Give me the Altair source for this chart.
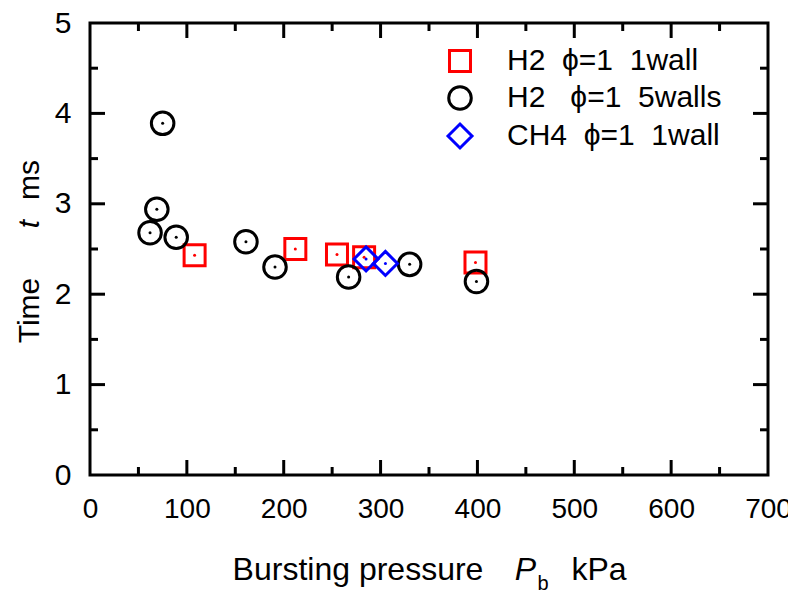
import altair as alt
import pandas as pd

# ---- data ----
h2_1wall_x = [108, 212, 255, 283, 398]
h2_1wall_y = [2.43, 2.50, 2.44, 2.41, 2.35]

h2_5walls_x = [75, 69, 62, 89, 161, 191, 267, 330, 399]
h2_5walls_y = [3.89, 2.94, 2.68, 2.63, 2.58, 2.30, 2.19, 2.33, 2.14]

ch4_1wall_x = [285, 305]
ch4_1wall_y = [2.39, 2.34]

NB = "\u00a0"
series_names = ["H2" + NB * 2 + "ϕ=1" + NB * 2 + "1wall",
                "H2" + NB * 3 + "ϕ=1" + NB * 2 + "5walls",
                "CH4" + NB * 2 + "ϕ=1" + NB * 2 + "1wall"]
series_colors = ["#ff0000", "#000000", "#0000ff"]
series_shapes = ["square", "circle", "diamond"]
series_sizes = [441, 576, 900]

x_major = [0, 100, 200, 300, 400, 500, 600, 700]
x_minor = [50, 150, 250, 350, 450, 550, 650]
y_major = [0, 1, 2, 3, 4, 5]
y_minor = [0.5, 1.5, 2.5, 3.5, 4.5]

W, H = 678, 452
FONT = "Liberation Sans"

rows = []
for name, xs, ys in zip(series_names,
                        [h2_1wall_x, h2_5walls_x, ch4_1wall_x],
                        [h2_1wall_y, h2_5walls_y, ch4_1wall_y]):
    for a, b in zip(xs, ys):
        rows.append({"P": a, "t": b, "series": name})
df = pd.DataFrame(rows)

xscale = alt.Scale(domain=[0, 700], nice=False, zero=False)
yscale = alt.Scale(domain=[0, 5], nice=False, zero=False)

xaxis = alt.Axis(values=x_major, format="d", domain=False, ticks=False, grid=False,
                 labelPadding=20, title=None, labelFlush=False)
yaxis = alt.Axis(values=y_major, format="d", domain=False, ticks=False, grid=False,
                 labelPadding=19, title=None, labelFlush=False)

leg = alt.Legend(title=None, orient="none", legendX=355, legendY=23,
                 symbolFillColor="transparent")

points = alt.Chart(df).mark_point(filled=False, strokeWidth=3, opacity=1).encode(
    x=alt.X("P:Q", scale=xscale, axis=xaxis),
    y=alt.Y("t:Q", scale=yscale, axis=yaxis),
    color=alt.Color("series:N", sort=series_names,
                    scale=alt.Scale(domain=series_names, range=series_colors), legend=leg),
    shape=alt.Shape("series:N", sort=series_names,
                    scale=alt.Scale(domain=series_names, range=series_shapes), legend=leg),
    size=alt.Size("series:N", sort=series_names,
                  scale=alt.Scale(domain=series_names, range=series_sizes), legend=leg),
)

# small centre dots, one layer per series with a fixed colour (no legend)
dot_layers = []
for name, col in zip(series_names, series_colors):
    dot_layers.append(
        alt.Chart(df).transform_filter(alt.datum.series == name)
        .mark_circle(size=9, opacity=1, color=col)
        .encode(x=alt.X("P:Q", scale=xscale, axis=xaxis),
                y=alt.Y("t:Q", scale=yscale, axis=yaxis))
    )
dots = alt.layer(*dot_layers)

def xticks(vals, length):
    d = pd.DataFrame({"v": vals})
    bottom = alt.Chart(d).mark_rule(color="black", strokeWidth=3).encode(
        x=alt.X("v:Q", scale=xscale, axis=xaxis), y=alt.value(H), y2=alt.value(H - length))
    top = alt.Chart(d).mark_rule(color="black", strokeWidth=3).encode(
        x=alt.X("v:Q", scale=xscale, axis=xaxis), y=alt.value(0), y2=alt.value(length))
    return bottom + top

def yticks(vals, length):
    d = pd.DataFrame({"v": vals})
    left = alt.Chart(d).mark_rule(color="black", strokeWidth=3).encode(
        y=alt.Y("v:Q", scale=yscale, axis=yaxis), x=alt.value(0), x2=alt.value(length))
    right = alt.Chart(d).mark_rule(color="black", strokeWidth=3).encode(
        y=alt.Y("v:Q", scale=yscale, axis=yaxis), x=alt.value(W), x2=alt.value(W - length))
    return left + right

ticks = xticks(x_major[1:-1], 15) + xticks(x_minor, 8) + yticks(y_major[1:-1], 15) + yticks(y_minor, 8)

# axis titles (text with italic variable symbols)
title_df = pd.DataFrame({"d": [0]})
def txt(s, x, y, size=30, italic=False, angle=0, align="center"):
    return alt.Chart(title_df).mark_text(
        text=s, fontSize=size, font=FONT, fontStyle="italic" if italic else "normal",
        angle=angle, align=align, baseline="alphabetic", color="black"
    ).encode(x=alt.value(x), y=alt.value(y))

titles = (
    txt("Bursting pressure", 268, 557, size=32)
    + txt("P", 435.5, 557, size=32, italic=True)
    + txt("b", 453, 567, size=20)
    + txt("kPa", 509, 557, size=32)
    + txt("Time", -51, 287.5, angle=270)
    + txt("t", -51, 201, italic=True, angle=270)
    + txt("ms", -51, 157, angle=270)
)

chart = alt.layer(points, dots, ticks, titles).properties(
    width=W, height=H,
    autosize=alt.AutoSizeParams(type="none"),
    padding={"left": 82, "top": 15, "right": 20, "bottom": 116},
).configure_view(stroke="black", strokeWidth=3).configure_axis(
    labelFontSize=30, labelFont=FONT, labelColor="black",
).configure_axisX(
    labelFontSize=28,
).configure_legend(
    labelLimit=400, labelFontSize=30, labelFont=FONT, labelColor="black",
    symbolStrokeWidth=3, rowPadding=2, labelOffset=32,
    symbolFillColor="transparent",
)

chart.save("out.html", embed_options={"renderer": "svg", "actions": False})
